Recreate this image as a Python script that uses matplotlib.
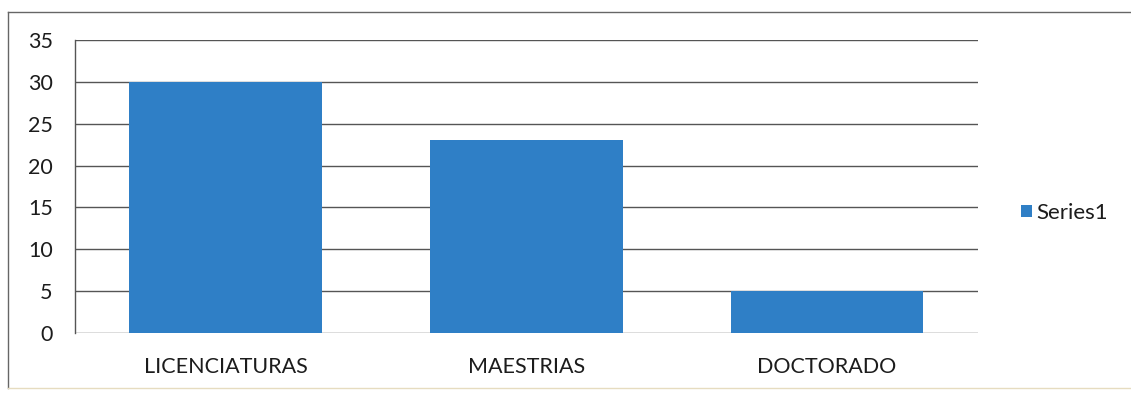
import matplotlib.pyplot as plt
from matplotlib.lines import Line2D

categories = ['LICENCIATURAS', 'MAESTRIAS', 'DOCTORADO']
values = [30, 23, 5]
yticks = [0, 5, 10, 15, 20, 25, 30, 35]
series_name = 'Series1'

bar_color = '#2F7FC6'
grid_color = '#555555'
text_color = '#1c1c1c'

plt.rcParams['font.family'] = ['Lato', 'DejaVu Sans']

fig = plt.figure(figsize=(11.31, 3.96), dpi=100)
ax = fig.add_axes([0.0663, 0.159, 0.798, 0.740])

x = range(len(categories))
ax.bar(x, values, width=0.64, color=bar_color, zorder=3, label=series_name)

ax.set_xlim(-0.5, len(categories) - 0.5)
ax.set_ylim(0, 35)
ax.set_yticks(yticks)
ax.set_xticks(list(x))
ax.set_xticklabels(categories, fontsize=15.5, color=text_color)
ax.tick_params(axis='y', labelsize=15.5, colors=text_color, length=0, pad=16)
ax.tick_params(axis='x', length=0, pad=17)

ax.grid(axis='y', color=grid_color, linewidth=1.0, zorder=0)
for side in ['top', 'right', 'bottom']:
    ax.spines[side].set_visible(False)
ax.spines['left'].set_color(grid_color)
ax.spines['left'].set_linewidth(1.0)

# chart frame: left and top edges, faint bottom edge
fig.add_artist(Line2D([0.007, 1.0], [0.970, 0.970], transform=fig.transFigure,
                      color='#666666', linewidth=1.0))
fig.add_artist(Line2D([0.007, 0.007], [0.020, 0.970], transform=fig.transFigure,
                      color='#666666', linewidth=1.0))
fig.add_artist(Line2D([0.007, 1.0], [0.020, 0.020], transform=fig.transFigure,
                      color='#e6dcc0', linewidth=1.0))

leg = fig.legend(loc='center left', bbox_to_anchor=(0.885, 0.462), frameon=False,
                 fontsize=16, handlelength=0.5, handleheight=0.5, handletextpad=0.2)
for t in leg.get_texts():
    t.set_color(text_color)

fig.savefig('out.png', dpi=100, facecolor='white')
